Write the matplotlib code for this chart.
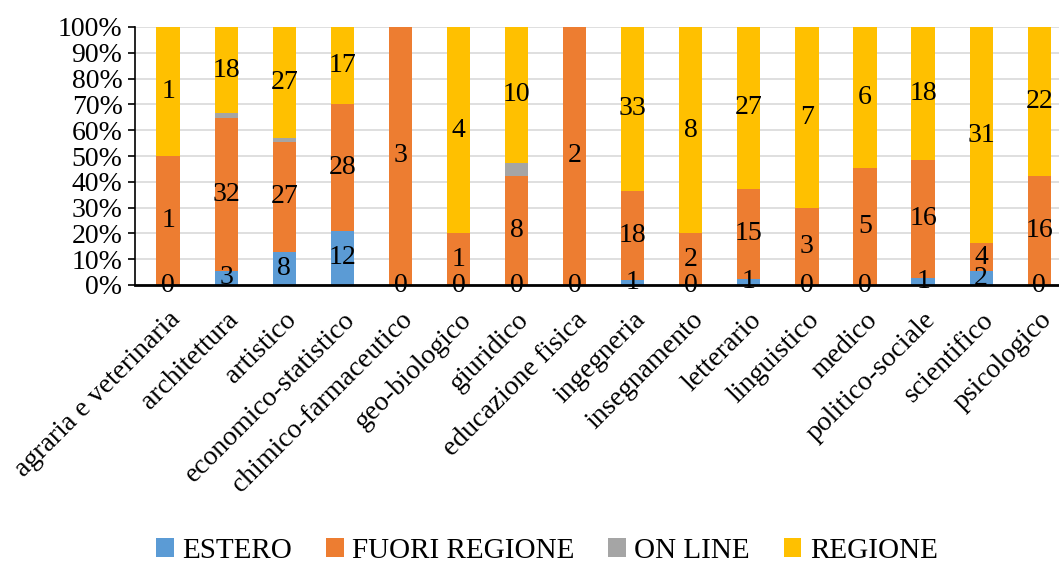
import numpy as np
import matplotlib
matplotlib.use("Agg")
import matplotlib.pyplot as plt
from matplotlib.ticker import PercentFormatter

plt.rcParams['font.family'] = ['Liberation Serif', 'DejaVu Serif']

categories = ["agraria e veterinaria", "architettura", "artistico", "economico-statistico",
              "chimico-farmaceutico", "geo-biologico", "giuridico", "educazione fisica",
              "ingegneria", "insegnamento", "letterario", "linguistico", "medico",
              "politico-sociale", "scientifico", "psicologico"]

estero = [0, 3, 8, 12, 0, 0, 0, 0, 1, 0, 1, 0, 0, 1, 2, 0]
fuori_regione = [1, 32, 27, 28, 3, 1, 8, 2, 18, 2, 15, 3, 5, 16, 4, 16]
on_line = [0, 1, 1, 0, 0, 0, 1, 0, 0, 0, 0, 0, 0, 0, 0, 0]
regione = [1, 18, 27, 17, 0, 4, 10, 0, 33, 8, 27, 7, 6, 18, 31, 22]

series = [("ESTERO", estero, "#5B9BD5", True),
          ("FUORI REGIONE", fuori_regione, "#ED7D31", True),
          ("ON LINE", on_line, "#A5A5A5", False),
          ("REGIONE", regione, "#FFC000", True)]

counts = np.array([s[1] for s in series], dtype=float)
totals = counts.sum(axis=0)
shares = counts / totals * 100

fig = plt.figure(figsize=(10.59, 5.63), dpi=100)
ax = fig.add_axes([135 / 1059, 1 - 285 / 563, 1 - 135 / 1059, (285 - 27) / 563])

x = np.arange(len(categories))
bottom = np.zeros(len(categories))
for i, (name, vals, color, show) in enumerate(series):
    ax.bar(x, shares[i], 0.4, bottom=bottom, color=color, label=name, zorder=2)
    if show:
        for k, v in enumerate(vals):
            if v == 0 and name != "ESTERO":
                continue
            ax.text(x[k], bottom[k] + shares[i][k] / 2, str(v), ha='center', va='center',
                    fontsize=20, color='black', zorder=3)
    bottom += shares[i]

ax.set_ylim(0, 100)
ax.set_xlim(-0.57, 15.34)
ax.set_yticks(np.arange(0, 101, 10))
ax.yaxis.set_major_formatter(PercentFormatter(decimals=0))
ax.grid(axis='y', color='#d9d9d9', linewidth=1.2, zorder=0)
ax.set_axisbelow(True)

for side in ['top', 'right']:
    ax.spines[side].set_visible(False)
ax.spines['left'].set_linewidth(1.2)
ax.spines['bottom'].set_linewidth(2)
ax.tick_params(axis='y', labelsize=20, length=5, width=1.2, pad=4)
ax.tick_params(axis='x', length=0, pad=16)

ax.set_xticks(x)
ax.set_xticklabels(categories, rotation=45, ha='right', va='top',
                   rotation_mode='anchor', fontsize=20)

ax.legend(loc='center', bbox_to_anchor=(0.446, -1.03), ncol=4, frameon=False,
          fontsize=21, handlelength=0.6, handleheight=0.6, handletextpad=0.3,
          columnspacing=1.15)

fig.savefig("out.png", dpi=100)
